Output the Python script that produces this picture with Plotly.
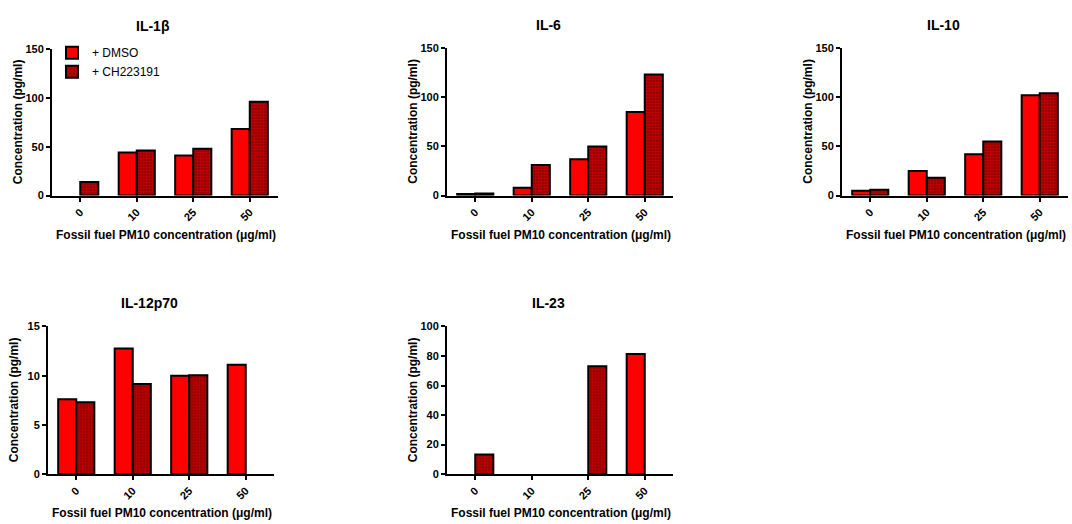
import plotly.graph_objects as go

categories = ["0", "10", "25", "50"]
panel_titles = ["IL-1β", "IL-6", "IL-10", "IL-12p70", "IL-23"]

il1b_dmso = [None, 44, 41, 68]
il1b_ch = [14, 46, 48, 96]
il6_dmso = [1.5, 8, 37, 85]
il6_ch = [2, 31, 50, 123]
il10_dmso = [5, 25, 42, 102]
il10_ch = [6, 18, 55, 104]
il12_dmso = [7.6, 12.75, 10.0, 11.1]
il12_ch = [7.3, 9.15, 10.05, None]
il23_dmso = [None, None, None, 81.4]
il23_ch = [13.3, None, 73, None]

y_ranges = [[0, 150], [0, 150], [0, 150], [0, 15], [0, 100]]
y_dticks = [50, 50, 50, 5, 20]

W, H = 1072, 524
# pixel boxes: (x0, x1, ytop, ybottom)
boxes = [
    (52, 278, 44, 194),
    (447, 673, 43, 194),
    (842, 1068, 43, 194),
    (48, 274, 328, 479),
    (447, 673, 328, 479),
]

series = [
    (il1b_dmso, il1b_ch),
    (il6_dmso, il6_ch),
    (il10_dmso, il10_ch),
    (il12_dmso, il12_ch),
    (il23_dmso, il23_ch),
]

FONT = "Liberation Sans, Arial, sans-serif"
fig = go.Figure()
for i, (d, c) in enumerate(series):
    xa = "x" if i == 0 else f"x{i+1}"
    ya = "y" if i == 0 else f"y{i+1}"
    fig.add_trace(go.Bar(
        x=categories, y=d, name="+ DMSO", xaxis=xa, yaxis=ya,
        marker=dict(color="#ff0000", line=dict(color="black", width=2)),
        showlegend=(i == 0), legendgroup="dmso", offsetgroup="a",
    ))
    fig.add_trace(go.Bar(
        x=categories, y=c, name="+ CH223191", xaxis=xa, yaxis=ya,
        marker=dict(color="#b00000", line=dict(color="black", width=2),
                    pattern=dict(shape=".", bgcolor="#850000", fgcolor="#ff0000",
                                 size=3, solidity=0.65)),
        showlegend=(i == 0), legendgroup="ch", offsetgroup="b",
    ))

layout = dict(
    width=W, height=H, margin=dict(l=0, r=0, t=0, b=0),
    plot_bgcolor="white", paper_bgcolor="white",
    barmode="group", bargap=0.36, bargroupgap=0,
    font=dict(family=FONT, color="black"),
    legend=dict(x=52 / W, y=1 - 33 / H, xanchor="left", yanchor="top",
                font=dict(size=12, family=FONT), bgcolor="rgba(0,0,0,0)",
                tracegroupgap=0, itemwidth=30),
)
annotations = []
for i, (x0, x1, yt, yb) in enumerate(boxes):
    sx = "" if i == 0 else str(i + 1)
    layout["xaxis" + sx] = dict(
        domain=[x0 / W, x1 / W], anchor="y" + sx, range=[-0.5, 3.5],
        showline=True, linecolor="black", linewidth=2,
        ticks="outside", ticklen=4, tickwidth=2, tickcolor="black",
        tickangle=-45, tickfont=dict(size=11, family=FONT, weight="bold"),
        showgrid=False, zeroline=False, fixedrange=True,
    )
    layout["yaxis" + sx] = dict(
        domain=[1 - yb / H, 1 - yt / H], anchor="x" + sx, range=y_ranges[i],
        dtick=y_dticks[i],
        showline=True, linecolor="black", linewidth=2,
        ticks="outside", ticklen=4, tickwidth=2, tickcolor="black",
        tickfont=dict(size=11, family=FONT, weight="bold"),
        showgrid=False, zeroline=False, fixedrange=True,
    )
    # panel title
    annotations.append(dict(
        text="<b>" + panel_titles[i] + "</b>", x=(x0 + 101) / W, y=1 - (yt - 24) / H,
        xref="paper", yref="paper", xanchor="center", yanchor="middle",
        showarrow=False, font=dict(size=14, family=FONT)))
    # x title
    annotations.append(dict(
        text="<b>Fossil fuel PM10 concentration (μg/ml)</b>",
        x=(x0 + x1) / 2 / W + 1 / W, y=1 - (yb + 40) / H,
        xref="paper", yref="paper", xanchor="center", yanchor="middle",
        showarrow=False, font=dict(size=12, family=FONT)))
    # y title
    annotations.append(dict(
        text="<b>Concentration (pg/ml)</b>", textangle=-90,
        x=(x0 - 34) / W, y=1 - ((yt + yb) / 2 - 0) / H,
        xref="paper", yref="paper", xanchor="center", yanchor="middle",
        showarrow=False, font=dict(size=12, family=FONT)))
layout["annotations"] = annotations
fig.update_layout(**layout)
fig.write_html("out.html")
